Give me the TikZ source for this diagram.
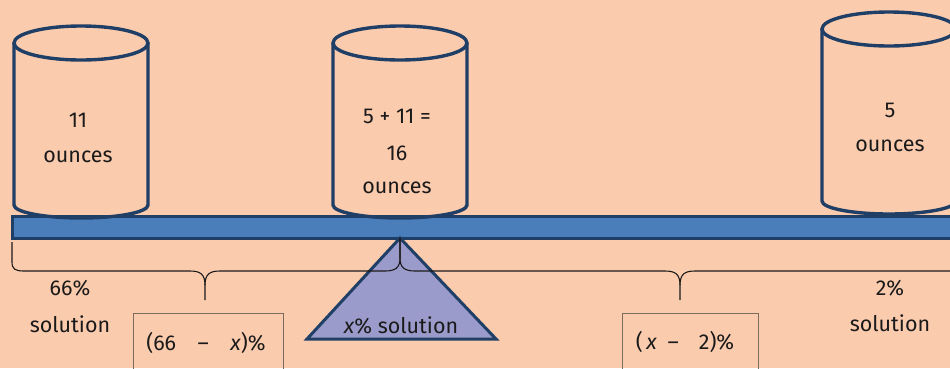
\documentclass[tikz,border=0pt]{standalone}
\usepackage{fontspec}
\setmainfont{Fira Sans}
\definecolor{bgpeach}{HTML}{FBCBAE}
\definecolor{beamfill}{HTML}{4A7EBB}
\definecolor{darkblue}{HTML}{1F3F66}
\definecolor{tri}{HTML}{9B9BCB}
\definecolor{boxline}{HTML}{7A6A60}
\definecolor{txt}{HTML}{1A1A1A}
\begin{document}
\begin{tikzpicture}[x=1pt,y=-1pt,
  cyl/.style={draw=darkblue,line width=3.4pt},
  lbl/.style={text=txt,font=\fontsize{21.5}{24}\selectfont,inner sep=0pt},
  brace/.style={draw=txt,line width=1.1pt},
  valbox/.style={draw=boxline,line width=1pt}]
\useasboundingbox (0,0) rectangle (950,368);
\fill[bgpeach] (0,0) rectangle (950,368);
% beam
\node[draw=darkblue,fill=beamfill,line width=3pt,minimum width=960pt,minimum height=22pt,anchor=north west,inner sep=0pt] (beam) at (11,214.5) {};
% cylinders (outline only)
\foreach \name/\cx/\ty/\by in {cylL/81/43/205, cylM/400/43/205, cylR/889/29/201}{
  \draw[cyl] (\cx-67,\ty) -- (\cx-67,\by) arc[start angle=180,end angle=360,x radius=67pt,y radius=13pt] -- (\cx+67,\ty);
  \draw[cyl] (\cx,\ty) ellipse[x radius=67pt,y radius=17pt];
  \coordinate (\name) at (\cx,\ty);
}
% fulcrum
\coordinate (apex) at (400,238);
\draw[draw=darkblue,fill=tri,line width=3pt,line join=miter] (apex) -- (307,339) -- (496,339) -- cycle;
\node[lbl] (xsol) at (401,325) {\textit{x}\% solution};
% cylinder texts
\node[lbl] (t11) at (78,120) {11};
\node[lbl] (toz1) at (78,157) {ounces};
\node[lbl] (tsum) at (397,116) {5 + 11 =};
\node[lbl] (t16) at (397,153) {16};
\node[lbl] (toz2) at (397,188) {ounces};
\node[lbl] (t5) at (890,110) {5};
\node[lbl] (toz3) at (890,146) {ounces};
% braces
\coordinate (bl) at (12,242);
\coordinate (btipL) at (205,300);
\coordinate (btipR) at (680,300);
\draw[brace] (bl) -- (12,262) .. controls (12,269) and (15,271) .. (24,271) -- (190,271)
  .. controls (200,271) and (205,274) .. (205,285) -- (btipL);
\draw[brace] (205,285) .. controls (205,274) and (210,271) .. (220,271) -- (385,271)
  .. controls (395,271) and (400,268) .. (400,258) -- (apex);
\draw[brace] (apex) -- (400,258) .. controls (400,268) and (405,271) .. (415,271) -- (665,271)
  .. controls (675,271) and (680,274) .. (680,285) -- (btipR);
\draw[brace] (680,285) .. controls (680,274) and (685,271) .. (695,271) -- (960,271);
% labels
\node[lbl] (p66) at (70,288) {66\%};
\node[lbl] (s66) at (70,324) {solution};
\node[lbl] (p2) at (890,288) {2\%};
\node[lbl] (s2) at (890,323) {solution};
% boxes
\draw[valbox] (133,313) rectangle (283,375);
\node[lbl] (b1) at (206,343) {(66\quad –\quad \textit{x})\%};
\draw[valbox] (622,313) rectangle (758,375);
\node[lbl] (b2) at (685,342) {(\,\textit{x}\enspace –\enspace\, 2)\%};
\end{tikzpicture}
\end{document}
